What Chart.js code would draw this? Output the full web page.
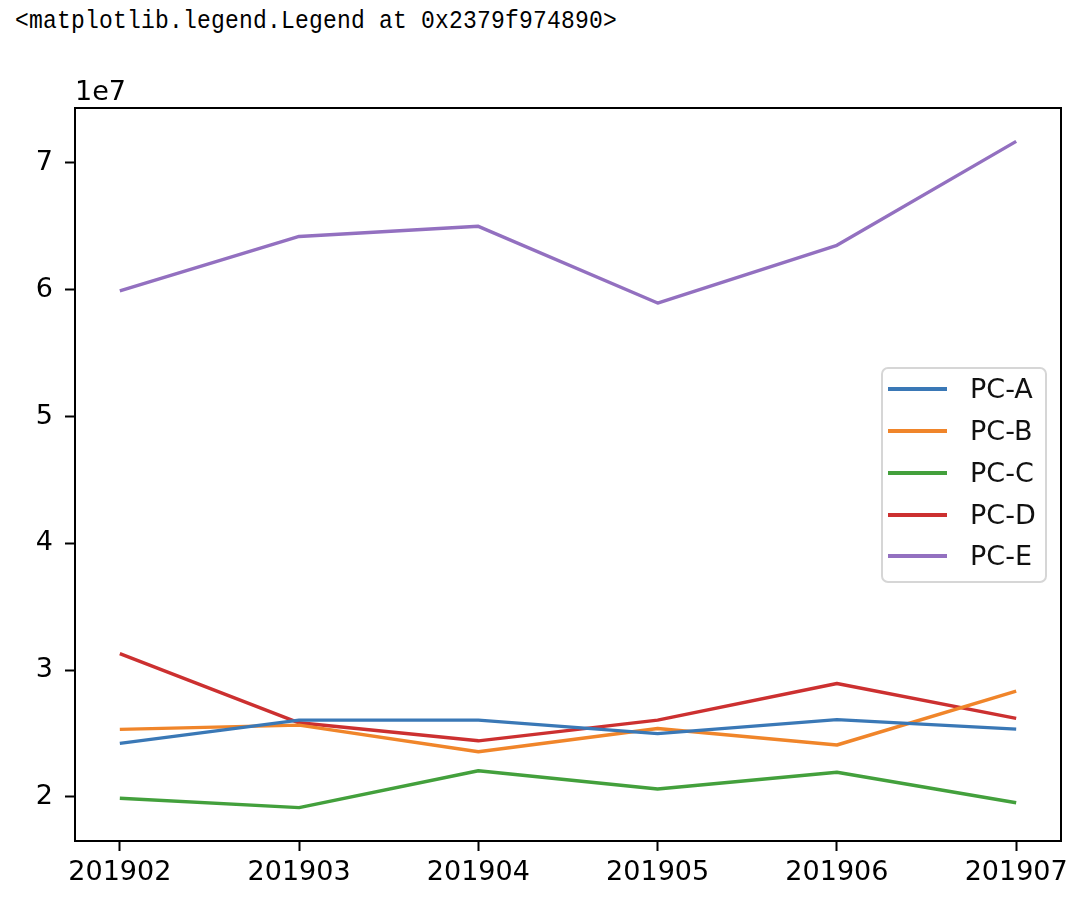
<!DOCTYPE html>
<html>
<head>
<meta charset="utf-8">
<script src="https://cdn.jsdelivr.net/npm/chart.js@4.4.1/dist/chart.umd.min.js"></script>
<style>
html, body { margin: 0; padding: 0; background: #fff; }
#wrap { position: relative; width: 1083px; height: 900px; overflow: hidden; background: #fff; }
#c { position: absolute; left: 0; top: 0; }
#out { position: absolute; left: 15px; top: 8px; font-family: "Liberation Mono", "DejaVu Sans Mono", monospace; font-size: 23px; letter-spacing: 0.2px; line-height: 1; color: #000; white-space: pre; transform: scaleY(1.15); transform-origin: 0 0; }
#leg { position: absolute; left: 881px; top: 367px; width: 162px; height: 212px; border: 2px solid #d6d6d6; border-radius: 7px; background: rgba(255,255,255,0.85); z-index: 2; }
.row { position: absolute; left: 0; height: 0; }
.sw { position: absolute; left: 5px; width: 59px; height: 3.4px; margin-top: -1.7px; }
.lab { position: absolute; left: 87px; top: -16px; font-family: "DejaVu Sans", sans-serif; font-size: 27px; line-height: 32px; color: #111; white-space: nowrap; }
</style>
</head>
<body>
<div id="wrap">
  <div id="out">&lt;matplotlib.legend.Legend at 0x2379f974890&gt;</div>
  <canvas id="c" width="1083" height="900"></canvas>
  <div id="leg"></div>
</div>
<script>
// ---- data ----
const months = ['201902', '201903', '201904', '201905', '201906', '201907'];
const seriesNames = ['PC-A', 'PC-B', 'PC-C', 'PC-D', 'PC-E'];
const pcA = [24230000, 26060000, 26060000, 25000000, 26100000, 25350000];
const pcB = [25330000, 25670000, 23570000, 25400000, 24100000, 28350000];
const pcC = [19900000, 19160000, 22070000, 20630000, 21950000, 19550000];
const pcD = [31300000, 25850000, 24430000, 26060000, 28950000, 26200000];
const pcE = [59900000, 64200000, 65000000, 58950000, 63500000, 71700000];
const yTickValues = [2, 3, 4, 5, 6, 7];
const yExponentLabel = '1e7';
const yScaleFactor = 1e7;
const seriesColors = ['#3a78b6', '#f0852a', '#43a03c', '#cc3030', '#9370c0'];

const seriesValues = [pcA, pcB, pcC, pcD, pcE];

const tickFont = { family: 'DejaVu Sans', size: 27 };

const datasets = seriesNames.map((name, i) => ({
  label: name,
  data: seriesValues[i].map((v, j) => ({ x: j, y: v })),
  borderColor: seriesColors[i],
  backgroundColor: seriesColors[i],
  borderWidth: 3.4,
  pointRadius: 0,
  pointHoverRadius: 0,
  tension: 0,
  fill: false,
  borderCapStyle: 'butt',
  borderJoinStyle: 'round'
}));

const framePlugin = {
  id: 'frame',
  afterDraw(chart) {
    const { ctx, chartArea: a } = chart;
    ctx.save();
    ctx.strokeStyle = '#000';
    ctx.lineWidth = 2;
    ctx.strokeRect(a.left, a.top, a.right - a.left, a.bottom - a.top);
    ctx.fillStyle = '#000';
    ctx.font = '27px "DejaVu Sans"';
    ctx.textAlign = 'left';
    ctx.textBaseline = 'alphabetic';
    ctx.fillText(yExponentLabel, a.left, a.top - 8);
    ctx.restore();
  }
};

const chart = new Chart(document.getElementById('c'), {
  type: 'line',
  data: { datasets },
  plugins: [framePlugin],
  options: {
    responsive: false,
    animation: false,
    devicePixelRatio: 1,
    layout: { padding: { left: 0, top: 108, right: 22, bottom: 0 } },
    plugins: { legend: { display: false }, tooltip: { enabled: false } },
    scales: {
      x: {
        type: 'linear',
        min: -0.25,
        max: 5.25,
        afterBuildTicks: (s) => { s.ticks = months.map((m, i) => ({ value: i })); },
        ticks: {
          callback: (v) => months[v],
          font: tickFont,
          color: '#000',
          padding: 6,
          maxRotation: 0,
          autoSkip: false
        },
        grid: { display: true, drawOnChartArea: false, drawTicks: true, tickLength: 10, tickWidth: 2, tickColor: '#000' },
        border: { display: true, color: '#000', width: 2 },
        afterFit: (s) => { s.height = 59; }
      },
      y: {
        type: 'linear',
        min: 16530000,
        max: 74330000,
        afterBuildTicks: (s) => { s.ticks = yTickValues.map(v => ({ value: v * yScaleFactor })); },
        ticks: {
          callback: (v) => String(Math.round(v / yScaleFactor)),
          font: tickFont,
          color: '#000',
          padding: 12,
          autoSkip: false
        },
        grid: { display: true, drawOnChartArea: false, drawTicks: true, tickLength: 10, tickWidth: 2, tickColor: '#000' },
        border: { display: true, color: '#000', width: 2 },
        afterFit: (s) => { s.width = 75; }
      }
    }
  }
});

// HTML legend built from the chart's datasets
const leg = document.getElementById('leg');
const rowTops = [20, 62, 104, 146, 187];
chart.data.datasets.forEach((ds, i) => {
  const row = document.createElement('div');
  row.className = 'row';
  row.style.top = rowTops[i] + 'px';
  const sw = document.createElement('div');
  sw.className = 'sw';
  sw.style.background = ds.borderColor;
  const lab = document.createElement('div');
  lab.className = 'lab';
  lab.textContent = ds.label;
  row.appendChild(sw);
  row.appendChild(lab);
  leg.appendChild(row);
});
</script>
</body>
</html>
